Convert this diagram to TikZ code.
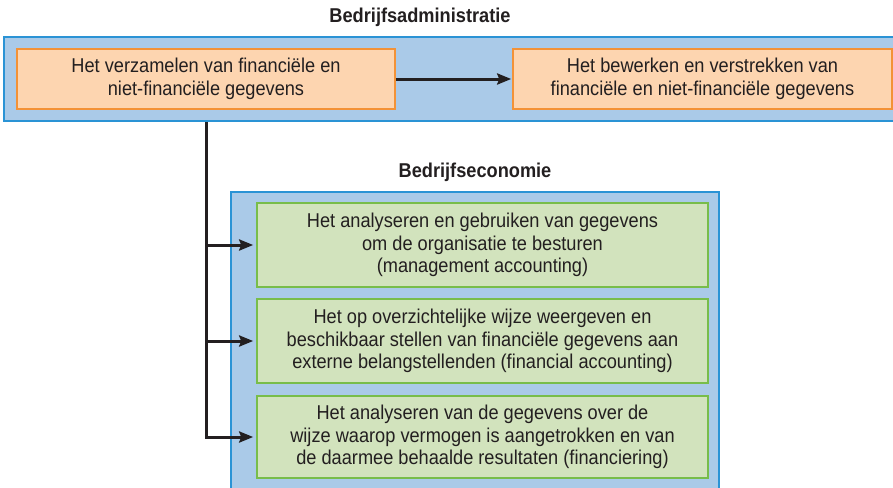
\documentclass[tikz,border=0pt]{standalone}
\usepackage{fontspec}
\setmainfont[FakeStretch=0.91]{Liberation Sans}
\usetikzlibrary{arrows.meta}
\definecolor{admblue}{HTML}{AACAE8}
\definecolor{admline}{HTML}{2A93D5}
\definecolor{verzfill}{HTML}{FDD5B0}
\definecolor{verzline}{HTML}{F39237}
\definecolor{ecofill}{HTML}{D2E3BD}
\definecolor{ecoline}{HTML}{78BD4A}
\definecolor{ink}{HTML}{231F20}

\begin{document}
\begin{tikzpicture}[x=1pt,y=-1pt,
		font=\fontsize{20}{22.7}\selectfont,text=ink,
		veld/.style={draw=admline,fill=admblue,line width=1.6pt,inner sep=0pt},
		taak/.style={draw=verzline,fill=verzfill,line width=1.6pt,align=center,minimum width=378pt,minimum height=60pt,inner sep=0pt},
		doel/.style={draw=ecoline,fill=ecofill,line width=1.6pt,align=center,minimum width=451pt,minimum height=84pt,inner sep=0pt},
		kop/.style={font=\fontsize{20}{22.7}\selectfont\bfseries},
		pijl/.style={draw=ink,line width=3pt,-{Stealth[length=14pt,width=11pt,inset=2pt]}}]
			\useasboundingbox (0,0) rectangle (893,487);
			\clip (0,0) rectangle (893,487);
			\node[veld,minimum width=901pt,minimum height=84pt] (adm) at (454.5,79) {};
			\node[veld,minimum width=488pt,minimum height=308pt] (eco) at (475,346) {};
			\node[kop] (admkop) at (420,17) {Bedrijfsadministratie};
			\node[kop] (ecokop) at (475,172) {Bedrijfseconomie};
			\node[taak] (verz) at (206,79) {Het verzamelen van financiële en\\niet-financiële gegevens};
			\node[taak,minimum width=379pt] (bewerk) at (702.5,79) {Het bewerken en verstrekken van\\financiële en niet-financiële gegevens};
			\node[doel] (gebr) at (482.5,245) {Het analyseren en gebruiken van gegevens\\om de organisatie te besturen\\(management accounting)};
			\node[doel] (fin) at (482.5,341) {Het op overzichtelijke wijze weergeven en\\beschikbaar stellen van financiële gegevens aan\\externe belangstellenden (financial accounting)};
			\node[doel,minimum height=82pt] (financ) at (482.5,437) {Het analyseren van de gegevens over de\\wijze waarop vermogen is aangetrokken en van\\de daarmee behaalde resultaten (financiering)};
			\draw[pijl,shorten >=1pt] (verz.east) -- (bewerk.west);
			\draw[pijl,shorten >=3pt] (verz.south |- adm.south) |- (financ.west);
			\draw[pijl,shorten >=3pt] (verz.south |- gebr.west) -- (gebr.west);
			\draw[pijl,shorten >=3pt] (verz.south |- fin.west) -- (fin.west);
		\end{tikzpicture}
\end{document}
